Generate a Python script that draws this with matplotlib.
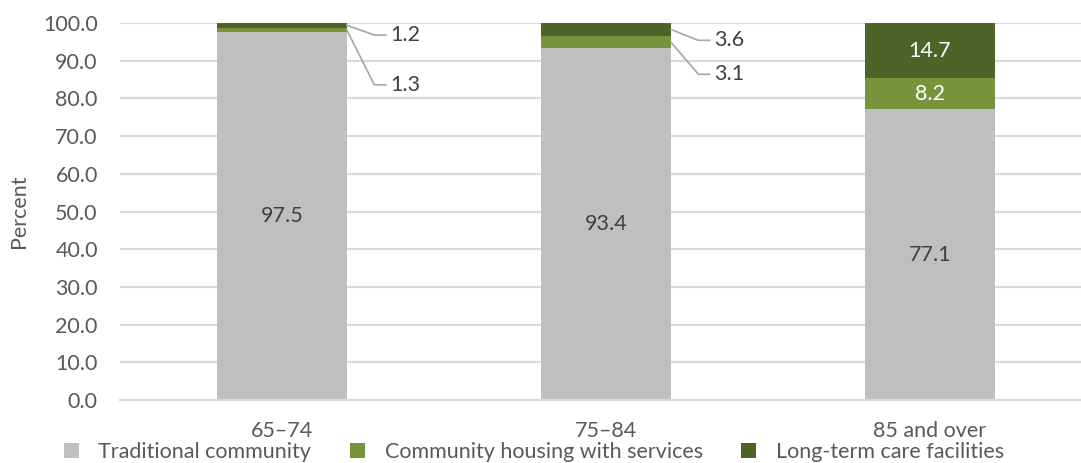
import matplotlib.pyplot as plt
import numpy as np

plt.rcParams['font.family'] = ['Lato', 'DejaVu Sans']

categories = ['65–74', '75–84', '85 and over']
traditional = [97.5, 93.4, 77.1]
housing = [1.3, 3.1, 8.2]
longterm = [1.2, 3.6, 14.7]
series_names = ['Traditional community', 'Community housing with services', 'Long-term care facilities']

# where the outside labels sit for the two small bars (data y of label)
out_label_y = {0: (83.6, 96.8), 1: (86.4, 95.4)}

col_trad = '#bfbfbf'
col_house = '#77933c'
col_long = '#4f6228'
txt = '#595959'
fs = 15.5

fig = plt.figure(figsize=(10.81, 4.63), dpi=100)
ax = fig.add_axes([120/1081, 63/463, 972/1081, 377/463])

x = np.arange(len(categories))
w = 0.4
b1 = ax.bar(x, traditional, w, color=col_trad, label=series_names[0], zorder=2)
b2 = ax.bar(x, housing, w, bottom=traditional, color=col_house, label=series_names[1], zorder=2)
bot3 = np.array(traditional) + np.array(housing)
b3 = ax.bar(x, longterm, w, bottom=bot3, color=col_long, label=series_names[2], zorder=2)

ax.set_xlim(-0.5, 2.5)
ax.set_ylim(0, 100)
ax.set_yticks(np.arange(0, 101, 10))
ax.set_yticklabels(['%.1f' % v for v in np.arange(0, 101, 10)])
ax.yaxis.grid(True, color='#d9d9d9', lw=1.5, zorder=0)
ax.set_axisbelow(True)
for s in ['top', 'right', 'left']:
    ax.spines[s].set_visible(False)
ax.spines['bottom'].set_color('#d9d9d9')
ax.spines['bottom'].set_linewidth(1.5)
ax.tick_params(axis='both', length=0, labelsize=fs, colors=txt)
ax.tick_params(axis='x', pad=15)
ax.tick_params(axis='y', pad=16)
ax.set_xticks(x)
ax.set_xticklabels(categories)
ax.set_ylabel('Percent', fontsize=fs, color=txt, labelpad=10)

# labels inside the gray part
for i, v in enumerate(traditional):
    ax.text(x[i], v / 2, '%.1f' % v, ha='center', va='center', fontsize=fs, color='#404040')

for i in range(len(categories)):
    if i in out_label_y:
        y_h, y_l = out_label_y[i]
        mid_h = traditional[i] + housing[i] / 2
        mid_l = bot3[i] + longterm[i] / 2
        xr = x[i] + w / 2
        for mid, ly, val in [(mid_h, y_h, housing[i]), (mid_l, y_l, longterm[i])]:
            ax.plot([xr, xr + 0.085, xr + 0.12], [mid, ly, ly], color='#a6a6a6', lw=1.2, zorder=3)
            ax.text(xr + 0.135, ly, '%.1f' % val, ha='left', va='center', fontsize=fs, color='#404040')
    else:
        ax.text(x[i], traditional[i] + housing[i] / 2, '%.1f' % housing[i], ha='center', va='center',
                fontsize=fs, color='white')
        ax.text(x[i], bot3[i] + longterm[i] / 2, '%.1f' % longterm[i], ha='center', va='center',
                fontsize=fs, color='white')

leg = fig.legend(handles=[b1, b2, b3], loc='center', bbox_to_anchor=(0.494, 11/463),
                 ncol=3, frameon=False, fontsize=fs, handlelength=0.7, handleheight=0.7,
                 columnspacing=1.8, handletextpad=0.9, borderpad=0, borderaxespad=0)
for t in leg.get_texts():
    t.set_color(txt)

fig.savefig('out.png', dpi=100)
